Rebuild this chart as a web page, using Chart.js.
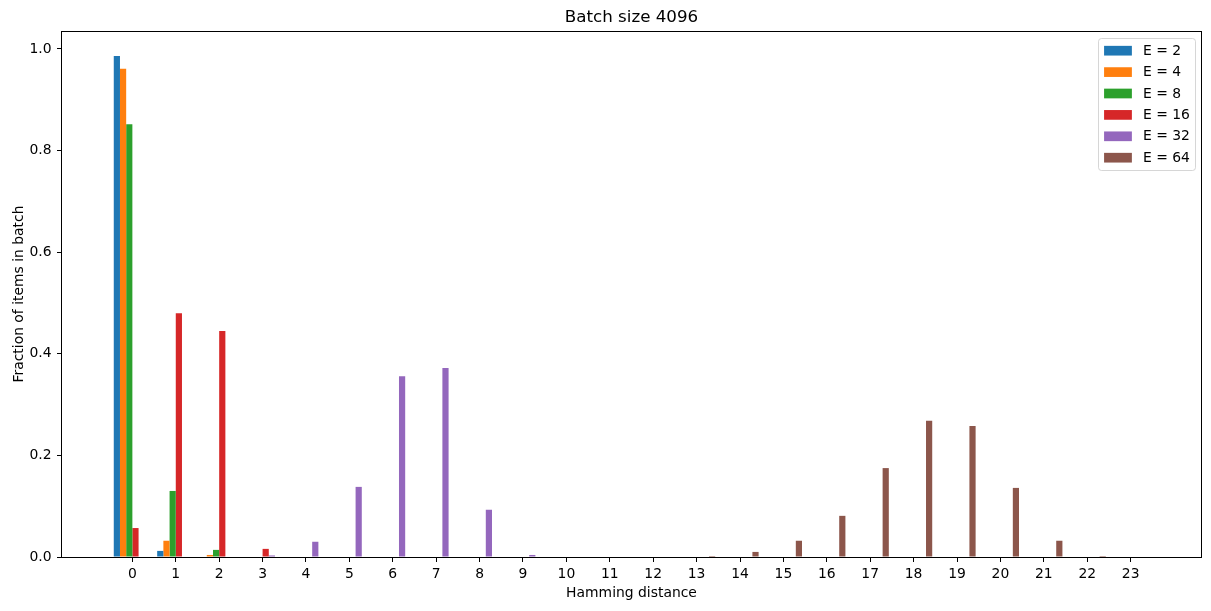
<!DOCTYPE html>
<html>
<head>
<meta charset="utf-8">
<script src="https://cdn.jsdelivr.net/npm/chart.js@4.4.1/dist/chart.umd.min.js"></script>
<style>
html, body { margin: 0; padding: 0; background: #fff; }
#wrap { width: 1211px; height: 611px; }
</style>
</head>
<body>
<div id="wrap"><canvas id="chart" width="1211" height="611"></canvas></div>
<script>
// hamming distance categories
const distances = [0,1,2,3,4,5,6,7,8,9,10,11,12,13,14,15,16,17,18,19,20,21,22,23];

// fraction of items per distance, one list per embedding size
const e2  = [0.986,0.012,0,0,0,0,0,0,0,0,0,0,0,0,0,0,0,0,0,0,0,0,0,0];
const e4  = [0.961,0.032,0.004,0,0,0,0,0,0,0,0,0,0,0,0,0,0,0,0,0,0,0,0,0];
const e8  = [0.852,0.130,0.014,0,0,0,0,0,0,0,0,0,0,0,0,0,0,0,0,0,0,0,0,0];
const e16 = [0.057,0.480,0.445,0.016,0,0,0,0,0,0,0,0,0,0,0,0,0,0,0,0,0,0,0,0];
const e32 = [0,0,0,0.003,0.030,0.138,0.356,0.372,0.093,0.004,0,0,0,0,0,0,0,0,0,0,0,0,0,0];
const e64 = [0,0,0,0,0,0,0,0,0,0,0,0,0,0.002,0.010,0.032,0.081,0.175,0.268,0.258,0.136,0.032,0.002,0];

const seriesLabels = ['E = 2','E = 4','E = 8','E = 16','E = 32','E = 64'];
const seriesValues = [e2, e4, e8, e16, e32, e64];
const colors = ['#1f77b4','#ff7f0e','#2ca02c','#d62728','#9467bd','#8c564b'];
const yTicks = [0, 0.2, 0.4, 0.6, 0.8, 1.0];

const FONT = "'DejaVu Sans', sans-serif";
Chart.defaults.font.family = FONT;
Chart.defaults.font.size = 13.9;
Chart.defaults.color = '#000';

// axis limits like matplotlib auto margins (5%)
const half = 3 / 7;
const span = (distances[distances.length - 1] + half) - (distances[0] - half);
const xMin = distances[0] - half - span * 0.05;
const xMax = distances[distances.length - 1] + half + span * 0.05;
const yMax = Math.max(...seriesValues.flat()) * 1.05;

// frame, title and legend box
const decor = {
  id: 'decor',
  afterDraw(chart) {
    const ctx = chart.ctx, ca = chart.chartArea;
    ctx.save();
    ctx.strokeStyle = '#000';
    ctx.lineWidth = 1;
    ctx.strokeRect(Math.round(ca.left) - 0.5, Math.round(ca.top) + 0.5,
                   Math.round(ca.right - ca.left) + 1, Math.round(ca.bottom - ca.top));

    ctx.fillStyle = '#000';
    ctx.font = '16.7px ' + FONT;
    ctx.textAlign = 'center';
    ctx.textBaseline = 'alphabetic';
    ctx.fillText('Batch size 4096', (ca.left + ca.right) / 2, ca.top - 9.5);

    // legend
    ctx.font = '13.9px ' + FONT;
    const sets = chart.data.datasets;
    const textW = Math.max(...sets.map(d => ctx.measureText(d.label).width));
    const pad = 5.6, handleLen = 27.8, textPad = 11.1, rowH = 21.4;
    const w = pad * 2 + handleLen + textPad + textW;
    const h = pad * 2 + rowH * (sets.length - 1) + 14.2;
    const bx = ca.right - 5.5 - w, by = ca.top + 7;
    ctx.beginPath();
    ctx.roundRect(Math.round(bx) + 0.5, Math.round(by) + 0.5, Math.round(w), Math.round(h), 3);
    ctx.fillStyle = 'rgba(255,255,255,0.8)';
    ctx.fill();
    ctx.strokeStyle = 'rgba(204,204,204,0.8)';
    ctx.stroke();
    ctx.textAlign = 'left';
    ctx.textBaseline = 'middle';
    sets.forEach((d, i) => {
      const cy = by + pad + 7.1 + i * rowH;
      ctx.fillStyle = d.backgroundColor;
      ctx.fillRect(bx + pad, cy - 4.85, handleLen, 9.7);
      ctx.fillStyle = '#000';
      ctx.fillText(d.label, bx + pad + handleLen + textPad, cy + 0.5);
    });
    ctx.restore();
  }
};

new Chart(document.getElementById('chart'), {
  type: 'bar',
  data: {
    datasets: seriesValues.map((vals, i) => ({
      label: seriesLabels[i],
      data: distances.map((d, j) => ({ x: d, y: vals[j] })),
      backgroundColor: colors[i],
      borderWidth: 0,
      inflateAmount: 0
    }))
  },
  options: {
    responsive: false,
    animation: false,
    categoryPercentage: 6 / 7,
    barPercentage: 1,
    layout: { padding: { top: 31, right: 10, bottom: 0, left: 0 } },
    plugins: { legend: { display: false }, tooltip: { enabled: false } },
    scales: {
      x: {
        type: 'linear',
        offset: false,
        min: xMin,
        max: xMax,
        afterBuildTicks: s => { s.ticks = distances.map(v => ({ value: v })); },
        afterFit: s => { s.height = 54; },
        ticks: { padding: 4.5, callback: v => String(v), autoSkip: false, maxRotation: 0 },
        grid: { drawOnChartArea: false, drawTicks: true, tickLength: 5, tickColor: '#000', offset: false },
        border: { display: false },
        title: { display: true, text: 'Hamming distance', padding: { top: 0, bottom: 9.6 }, font: { size: 13.9, lineHeight: 1.2 } }
      },
      y: {
        min: 0,
        max: yMax,
        afterBuildTicks: s => { s.ticks = yTicks.map(v => ({ value: v })); },
        afterFit: s => { s.width = 62; },
        ticks: { padding: 5.5, callback: v => v.toFixed(1) },
        grid: { drawOnChartArea: false, drawTicks: true, tickLength: 5, tickColor: '#000' },
        border: { display: false },
        title: { display: true, text: 'Fraction of items in batch', padding: { top: 10.7, bottom: 0 }, font: { size: 13.9, lineHeight: 1.2 } }
      }
    }
  },
  plugins: [decor]
});
</script>
</body>
</html>
